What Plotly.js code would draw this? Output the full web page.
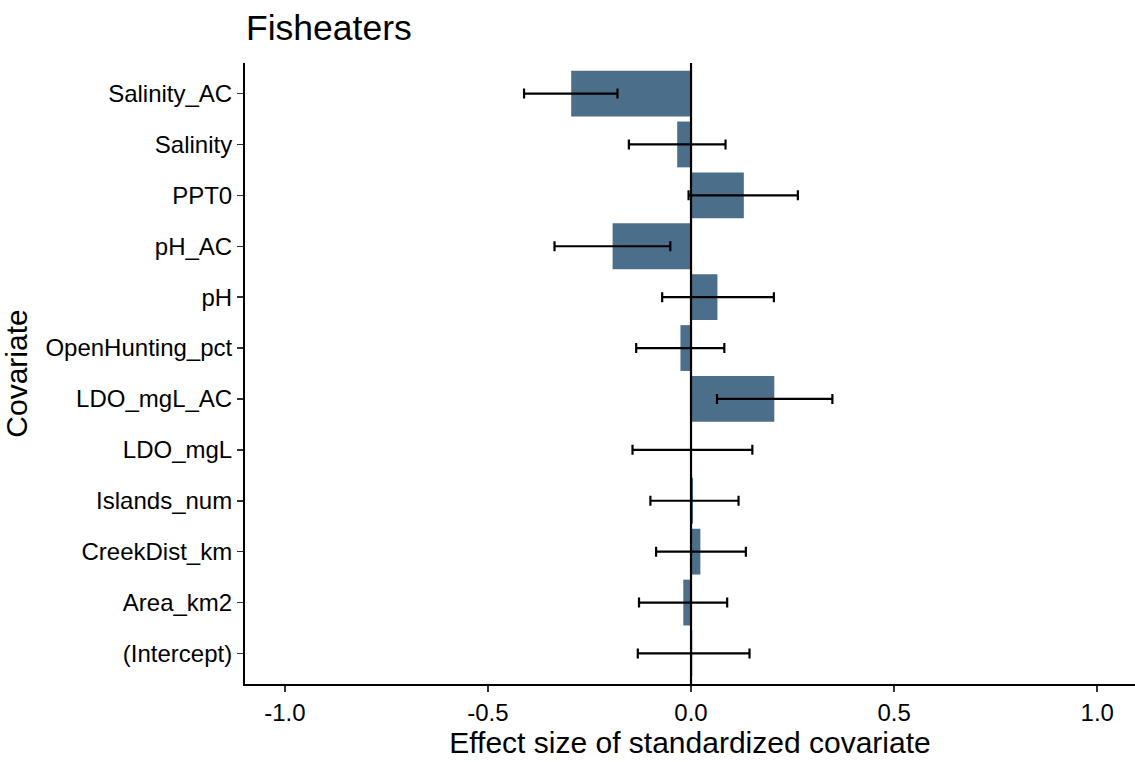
<!DOCTYPE html>
<html>
<head>
<meta charset="utf-8">
<script src="https://cdn.plot.ly/plotly-3.0.1.min.js"></script>
<style>html,body{margin:0;padding:0;background:#fff;}#chart{width:1135px;height:762px;}</style>
</head>
<body>
<div id="chart"></div>
<script>
// bottom to top
var covariates = ['(Intercept)','Area_km2','CreekDist_km','Islands_num','LDO_mgL','LDO_mgL_AC','OpenHunting_pct','pH','pH_AC','PPT0','Salinity','Salinity_AC'];
var estimates = [0.003, -0.019, 0.023, 0.005, 0.001, 0.205, -0.026, 0.065, -0.193, 0.130, -0.034, -0.295];
var lower = [-0.131, -0.128, -0.086, -0.100, -0.144, 0.064, -0.135, -0.071, -0.336, -0.006, -0.153, -0.411];
var upper = [0.144, 0.089, 0.135, 0.117, 0.151, 0.348, 0.082, 0.204, -0.051, 0.263, 0.085, -0.181];
var xTicks = [-1, -0.5, 0, 0.5, 1];
var xTickLabels = ['-1.0', '-0.5', '0.0', '0.5', '1.0'];

var errPlus = upper.map(function(u, i){ return u - estimates[i]; });
var errMinus = lower.map(function(l, i){ return estimates[i] - l; });

var font = 'Liberation Sans, Arial, sans-serif';

var trace = {
  type: 'bar',
  orientation: 'h',
  y: covariates,
  x: estimates,
  width: 0.9,
  marker: {color: '#4b6f8b', line: {width: 0}},
  error_x: {type: 'data', array: errPlus, arrayminus: errMinus, symmetric: false, color: '#000', thickness: 2.2, width: 5},
  hoverinfo: 'x+y'
};

var layout = {
  width: 1135, height: 762,
  margin: {l: 245, r: 0, t: 63, b: 78},
  paper_bgcolor: '#fff', plot_bgcolor: '#fff',
  showlegend: false,
  title: {text: 'Fisheaters', font: {family: font, size: 35.5, color: '#000'}, x: 246/1135, xanchor: 'left', xref: 'container', y: 1 - 28/762, yanchor: 'middle', yref: 'container'},
  xaxis: {
    range: [-1.098, 1.093], tickvals: xTicks, ticktext: xTickLabels,
    showgrid: false, zeroline: false, showline: true, linecolor: '#000', linewidth: 2,
    ticks: 'outside', ticklen: 6, tickwidth: 1.5, tickcolor: '#333',
    tickfont: {family: font, size: 24, color: '#000'},
    title: {text: 'Effect size of standardized covariate', font: {family: font, size: 30, color: '#000'}, standoff: 6}
  },
  yaxis: {
    type: 'category', categoryorder: 'array', categoryarray: covariates, range: [-0.6, 11.6],
    showgrid: false, zeroline: false, showline: true, linecolor: '#000', linewidth: 2,
    ticks: 'outside', ticklen: 6, tickwidth: 1.5, tickcolor: '#333',
    tickfont: {family: font, size: 24, color: '#000'},
    title: {text: 'Covariate', font: {family: font, size: 30, color: '#000'}, standoff: 10}
  },
  shapes: [{type: 'line', xref: 'x', yref: 'paper', x0: 0, x1: 0, y0: 0, y1: 1, line: {color: '#000', width: 2.2}, layer: 'above'}]
};

Plotly.newPlot('chart', [trace], layout, {displayModeBar: false, staticPlot: true});
</script>
</body>
</html>
